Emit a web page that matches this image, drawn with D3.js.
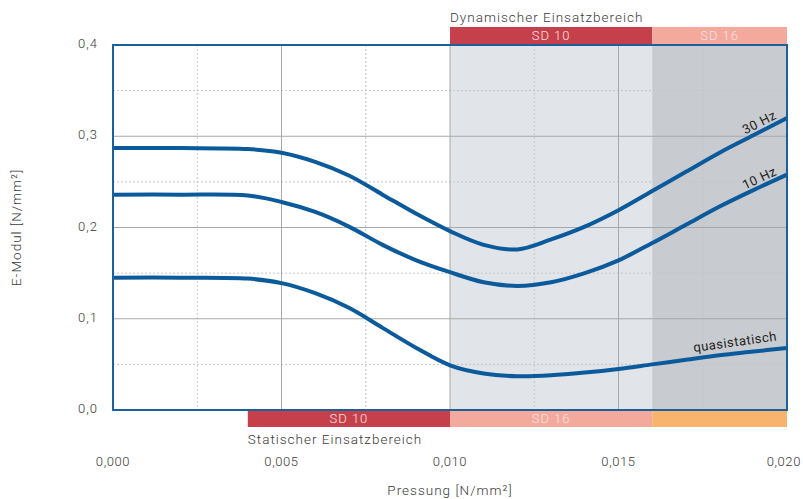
<!DOCTYPE html>
<html>
<head>
<meta charset="utf-8">
<script src="https://cdn.jsdelivr.net/npm/d3@7"></script>
<style>
  body { margin: 0; background: #fff; }
  text { font-family: "Roboto", "Liberation Sans", sans-serif; font-weight: 300; fill: #3a3a3a; letter-spacing: 1px; }
</style>
</head>
<body>
<div id="chart"></div>
<script>
// pressure values (x) shared by all curves
var pressure = [0, 0.002, 0.004, 0.005, 0.006, 0.007, 0.008, 0.009, 0.010, 0.011, 0.012,
                0.013, 0.014, 0.015, 0.016, 0.017, 0.018, 0.019, 0.020];

// E-Modul values per curve
var hz30 = [0.287, 0.287, 0.286, 0.282, 0.272, 0.257, 0.236, 0.215, 0.196, 0.181, 0.176,
            0.187, 0.201, 0.219, 0.240, 0.261, 0.282, 0.301, 0.320];
var hz10 = [0.236, 0.236, 0.235, 0.228, 0.217, 0.201, 0.181, 0.164, 0.151, 0.140, 0.136,
            0.140, 0.150, 0.164, 0.183, 0.203, 0.223, 0.241, 0.258];
var quasi = [0.145, 0.145, 0.144, 0.139, 0.128, 0.112, 0.090, 0.068, 0.049, 0.040, 0.037,
             0.038, 0.041, 0.045, 0.050, 0.055, 0.060, 0.064, 0.068];

var seriesNames = ["30 Hz", "10 Hz", "quasistatisch"];

// ranges (bands above and below the plot)
var dynBands = [{from: 0.010, to: 0.016, label: "SD 10", color: "#c5404a"},
                {from: 0.016, to: 0.020, label: "SD 16", color: "#f3a99b"}];
var statBands = [{from: 0.004, to: 0.010, label: "SD 10", color: "#c5404a"},
                 {from: 0.010, to: 0.016, label: "SD 16", color: "#f3a99b"},
                 {from: 0.016, to: 0.020, label: "", color: "#f8b46d"}];
var shadeBands = [{from: 0.010, to: 0.016, color: "#e1e4e8"},
                  {from: 0.016, to: 0.020, color: "#c8ccd0"}];

var xTicks = [0, 0.005, 0.010, 0.015, 0.020];
var yTicks = [0, 0.1, 0.2, 0.3, 0.4];

var svgWidth = 803;
var svgHeight = 499;
var margin = {top: 45, right: 16, bottom: 89, left: 113};
var chartWidth = svgWidth - margin.left - margin.right;
var chartHeight = svgHeight - margin.top - margin.bottom;

var svg = d3.select("#chart").append("svg")
  .attr("width", svgWidth)
  .attr("height", svgHeight);

var g = svg.append("g")
  .attr("transform", `translate(${margin.left}, ${margin.top})`);

var x = d3.scaleLinear().domain([0, 0.02]).range([0, chartWidth]);
var y = d3.scaleLinear().domain([0, 0.4]).range([chartHeight, 0]);

var fmt = d3.format(".3f");
var comma = function(s) { return s.replace(".", ","); };

// shaded areas
g.selectAll(".shade").data(shadeBands).enter().append("rect")
  .attr("x", d => x(d.from))
  .attr("y", 0)
  .attr("width", d => x(d.to) - x(d.from))
  .attr("height", chartHeight)
  .attr("fill", d => d.color);

// minor dashed grid
var minorX = [0.0025, 0.0075, 0.0125, 0.0175];
var minorY = [0.05, 0.15, 0.25, 0.35];
g.selectAll(".mx").data(minorX).enter().append("line")
  .attr("x1", d => x(d)).attr("x2", d => x(d))
  .attr("y1", 0).attr("y2", chartHeight)
  .attr("stroke", "#c4c4c4").attr("stroke-dasharray", "2,2").attr("stroke-width", 1);
g.selectAll(".my").data(minorY).enter().append("line")
  .attr("x1", 0).attr("x2", chartWidth)
  .attr("y1", d => y(d)).attr("y2", d => y(d))
  .attr("stroke", "#c4c4c4").attr("stroke-dasharray", "2,2").attr("stroke-width", 1);

// major grid
g.selectAll(".gx").data(xTicks.slice(1, -1)).enter().append("line")
  .attr("x1", d => x(d)).attr("x2", d => x(d))
  .attr("y1", 0).attr("y2", chartHeight)
  .attr("stroke", "#a8a8a8").attr("stroke-width", 1);
g.selectAll(".gy").data(yTicks.slice(1, -1)).enter().append("line")
  .attr("x1", 0).attr("x2", chartWidth)
  .attr("y1", d => y(d)).attr("y2", d => y(d))
  .attr("stroke", "#a8a8a8").attr("stroke-width", 1);

// top band
var bandH = 17;
var dynG = g.selectAll(".dyn").data(dynBands).enter().append("g");
dynG.append("rect")
  .attr("x", d => x(d.from)).attr("y", -bandH - 1)
  .attr("width", d => x(d.to) - x(d.from)).attr("height", bandH)
  .attr("fill", d => d.color);
dynG.append("text")
  .attr("x", d => (x(d.from) + x(d.to)) / 2).attr("y", -bandH / 2 - 1)
  .attr("dy", "0.36em").attr("text-anchor", "middle")
  .style("fill", "#fbe3e3").style("font-size", "13px")
  .text(d => d.label);

// bottom band
var statG = g.selectAll(".stat").data(statBands).enter().append("g");
statG.append("rect")
  .attr("x", d => x(d.from)).attr("y", chartHeight)
  .attr("width", d => x(d.to) - x(d.from)).attr("height", bandH)
  .attr("fill", d => d.color);
statG.append("text")
  .attr("x", d => (x(d.from) + x(d.to)) / 2).attr("y", chartHeight + bandH / 2)
  .attr("dy", "0.36em").attr("text-anchor", "middle")
  .style("fill", "#fbe3e3").style("font-size", "13px")
  .text(d => d.label);

g.append("text")
  .attr("x", x(0.010)).attr("y", -23)
  .style("font-size", "13.5px")
  .text("Dynamischer Einsatzbereich");
g.append("text")
  .attr("x", x(0.004)).attr("y", chartHeight + bandH + 17)
  .style("font-size", "13.5px")
  .text("Statischer Einsatzbereich");

// curves
var allSeries = [hz30, hz10, quasi];
var line = d3.line()
  .x((d, i) => x(pressure[i]))
  .y(d => y(d))
  .curve(d3.curveCatmullRom.alpha(0.5));

g.selectAll(".curve").data(allSeries).enter().append("path")
  .attr("d", d => line(d))
  .attr("fill", "none")
  .attr("stroke", "#0b5a9c")
  .attr("stroke-width", 4);

// frame
g.append("rect")
  .attr("x", 0).attr("y", 0)
  .attr("width", chartWidth).attr("height", chartHeight)
  .attr("fill", "none").attr("stroke", "#1b5f9b").attr("stroke-width", 2);

// curve labels (placed near the index-th point, rotated along the curve)
var labelAt = [{i: 17, dx: 8, off: 9, angle: -27},
               {i: 17, dx: 8, off: 8, angle: -25},
               {i: 16, dx: 16, off: 9, angle: -8}];
seriesNames.forEach(function(name, k) {
  var s = allSeries[k];
  var lp = labelAt[k];
  var px = x(pressure[lp.i]) + lp.dx;
  var py = y(s[lp.i]) - lp.off;
  g.append("text")
    .attr("transform", `translate(${px}, ${py}) rotate(${lp.angle})`)
    .attr("text-anchor", "middle")
    .style("font-size", "13px")
    .style("font-weight", "400")
    .style("letter-spacing", "0.5px")
    .style("fill", "#222")
    .text(name);
});

// axes tick labels (last one kept inside the window)
var lastX = xTicks[xTicks.length - 1];
g.selectAll(".xt").data(xTicks).enter().append("text")
  .attr("x", d => d === lastX ? chartWidth + 14 : x(d)).attr("y", chartHeight + 56)
  .attr("text-anchor", d => d === lastX ? "end" : "middle")
  .style("font-size", "13px")
  .style("letter-spacing", "0.6px")
  .text(d => comma(fmt(d)));
g.selectAll(".yt").data(yTicks).enter().append("text")
  .attr("x", -15).attr("y", d => y(d) + 3)
  .attr("text-anchor", "end")
  .style("font-size", "13px")
  .text(d => comma(d3.format(".1f")(d)));

// axis titles
g.append("text")
  .attr("x", x(0.010)).attr("y", chartHeight + 85)
  .attr("text-anchor", "middle")
  .style("font-size", "13.5px")
  .text("Pressung [N/mm²]");
g.append("text")
  .attr("transform", `translate(${-92}, ${y(0.2)}) rotate(-90)`)
  .attr("text-anchor", "middle")
  .style("font-size", "13.5px")
  .text("E-Modul [N/mm²]");
</script>
</body>
</html>
